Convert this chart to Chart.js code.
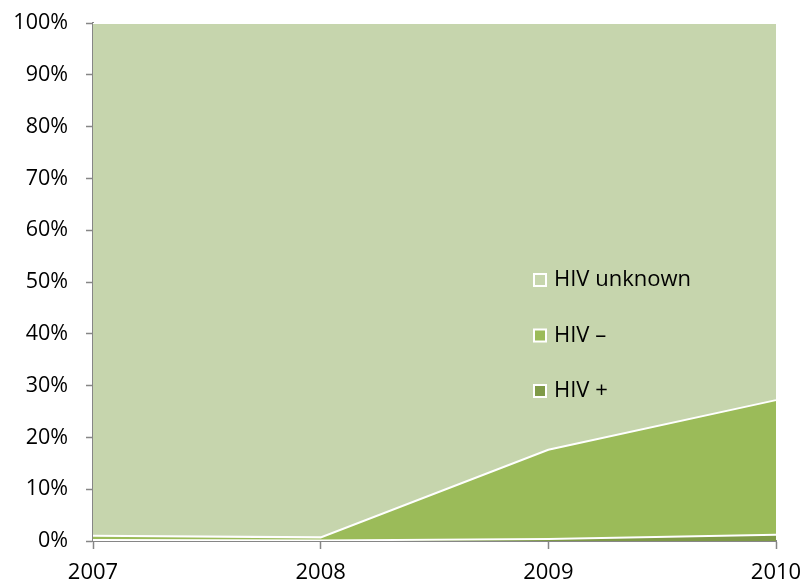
<!DOCTYPE html>
<html>
<head>
<meta charset="utf-8">
<script src="https://cdn.jsdelivr.net/npm/chart.js@4.4.0/dist/chart.umd.min.js"></script>
<style>
  html, body { margin: 0; padding: 0; background: #fff; }
  #wrap { width: 805px; height: 585px; position: relative; }
</style>
</head>
<body>
<div id="wrap"><canvas id="chartArea" width="805" height="585"></canvas></div>
<script>
// Data (percent of cases)
const years = ["2007", "2008", "2009", "2010"];
const hivPos = [0.2, 0.1, 0.4, 1.2];
const hivNeg = [0.8, 0.6, 17.2, 26.0];
const hivUnknown = [99.0, 99.3, 82.4, 72.8];
const yTicks = [0, 10, 20, 30, 40, 50, 60, 70, 80, 90, 100];

const FONT = "'Open Sans', 'Liberation Sans', sans-serif";
const AXIS = "#868686";

// scale paddings would otherwise push the plot area around
const noPad = s => { s.paddingTop = 0; s.paddingBottom = 0; s.paddingLeft = 0; s.paddingRight = 0; };

// legend drawn inside the plot, top entry = top layer
const legendPlugin = {
  id: "innerLegend",
  afterDraw(chart) {
    const ctx = chart.ctx;
    const items = chart.data.datasets.slice().reverse();
    const x = 533, y0 = 280, gap = 55.5;
    ctx.save();
    ctx.font = "22px " + FONT;
    ctx.textBaseline = "middle";
    items.forEach((ds, i) => {
      const y = y0 + i * gap;
      ctx.fillStyle = "#fff";
      ctx.fillRect(x, y - 7, 14, 14);
      ctx.fillStyle = ds.legendColor;
      ctx.fillRect(x + 2, y - 5, 10, 10);
      ctx.fillStyle = "#000";
      ctx.fillText(ds.label, x + 21, y);
    });
    ctx.restore();
  }
};

new Chart(document.getElementById("chartArea").getContext("2d"), {
  type: "line",
  data: {
    labels: years,
    datasets: [
      { label: "HIV +", data: hivPos, backgroundColor: "#7F9A48", legendColor: "#7F9A48", fill: "origin" },
      { label: "HIV \u2013", data: hivNeg, backgroundColor: "#9BBB59", legendColor: "#9BBB59", fill: "-1" },
      { label: "HIV unknown", data: hivUnknown, backgroundColor: "#C6D5AD", legendColor: "#C6D5AD", fill: "-1" }
    ].map(d => Object.assign(d, { borderColor: "#fff", borderWidth: 2, pointRadius: 0, tension: 0 }))
  },
  options: {
    responsive: false,
    animation: false,
    layout: { padding: { top: 23, right: 29, left: 0, bottom: 0 } },
    plugins: { legend: { display: false }, tooltip: { enabled: false } },
    scales: {
      x: {
        offset: false,
        grid: { drawOnChartArea: false, color: AXIS, tickLength: 8, tickWidth: 1.5 },
        border: { color: AXIS, width: 2 },
        ticks: { color: "#000", font: { family: FONT, size: 22 }, padding: 11, maxRotation: 0, autoSkip: false },
        afterFit: s => { s.height = 44; noPad(s); }
      },
      y: {
        stacked: true,
        min: 0, max: 100,
        afterBuildTicks: s => { s.ticks = yTicks.map(v => ({ value: v })); },
        grid: { drawOnChartArea: false, color: AXIS, tickLength: 7, tickWidth: 1.5 },
        border: { color: AXIS, width: 2 },
        ticks: { color: "#000", font: { family: FONT, size: 21.5 }, padding: 18, callback: v => v + "%" },
        afterFit: s => { s.width = 93; noPad(s); }
      }
    }
  },
  plugins: [legendPlugin]
});
</script>
</body>
</html>
